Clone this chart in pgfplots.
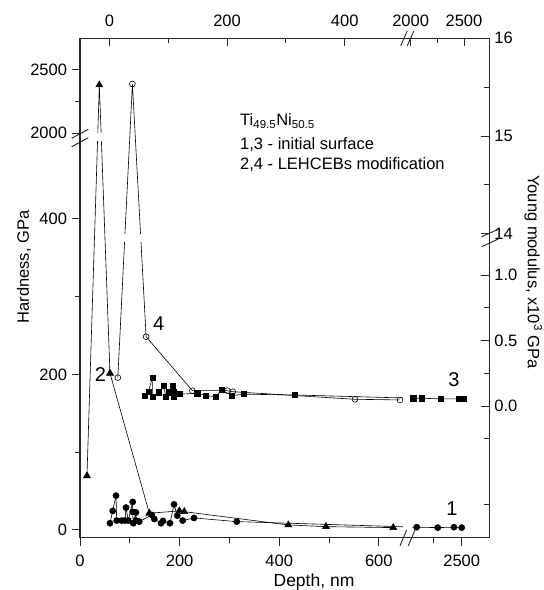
\documentclass[border=0pt]{standalone}
\usepackage{fontspec}
\setmainfont{Liberation Sans}
\usepackage{pgfplots}
\usepackage{pgfplotstable}
\pgfplotsset{compat=1.18}
% Series 1: hardness, initial surface (bottom x, left y)
\pgfplotstableread{
x y
60.2 8.6
65.7 24.4
72.3 44.1
73.7 12.0
83.7 12.0
90.4 12.2
92.4 28.7
97.0 12.0
105.8 36.0
105.8 23.2
107.0 8.6
112.4 22.5
112.4 12.0
119.0 10.7
144.0 19.3
149.2 14.1
162.7 8.6
166.7 11.6
180.7 8.6
188.8 32.8
195.4 18.4
206.2 12.0
228.9 15.4
314.7 10.7
2104 3.5
2289 3.0
2432 3.5
2500 3.0
}\seriesone
% Series 2: hardness, LEHCEBs modification
\pgfplotstableread{
x y
14 69.5
38.8 2381.5
60.2 201.5
139.2 21.5
199.4 24.4
209.4 23.5
418.3 6.4
494 4.2
629 3.0
}\seriestwo
% Series 3: Young modulus (x10^3 GPa), initial surface (top x, right y)
\pgfplotstableread{
x y
60.7 0.079
66.3 0.109
73.1 0.217
73.1 0.071
83.3 0.105
91.8 0.153
96.3 0.071
100.3 0.105
107.7 0.153
108.8 0.109
109.9 0.071
118.9 0.090
149.5 0.097
164.3 0.079
180.8 0.071
191.0 0.122
208.0 0.079
228.9 0.090
315.5 0.084
2025 0.059
2104 0.059
2285 0.054
2448 0.054
2497 0.054
}\seriesthree
% Series 4: Young modulus, LEHCEBs modification
\pgfplotstableread{
x y
14.3 0.217
39.1 15.532
62.4 0.530
141 0.117
200.5 0.117
209.7 0.109
417.5 0.051
494 0.046
}\seriesfour
\begin{document}
\begin{tikzpicture}
\useasboundingbox (-80pt,-52.3pt) rectangle (464pt,537.7pt);
\pgfplotsset{
  common/.style={
    scale only axis, width=409.3pt, height=499.4pt,
    at={(0pt,0pt)}, anchor=south west,
    axis line style={line width=1.1pt, black!85},
    every tick/.style={line width=0.9pt, black!85},
    major tick length=8pt, minor tick length=5pt,
    tick label style={font=\fontsize{16.5}{19}\selectfont},
    clip=false,
  },
}
\begin{axis}[common,
  x coord trafo/.code={\pgfmathparse{#1<1000 ? #1 : 652.4+(#1-2000)*0.2281}},
  y coord trafo/.code={\pgfmathparse{#1<1000 ? #1 : 510.2+(#1-2000)*0.1628}},
  xmin=0, xmax=2743, ymin=-10, ymax=2750,
  xtick pos=lower, ytick pos=lower,
  xticklabel pos=lower, yticklabel pos=lower,
  tick align=outside,
  xticklabel style={yshift=-6pt},
  yticklabel style={xshift=-1.5pt},
  xtick={0,200,400,600,2500}, xticklabels={0,200,400,600,2500},
  minor xtick={100,300,500,2250},
  ytick={0,200,400,2000,2500}, yticklabels={0,200,400,2000,2500},
  minor ytick={100,300,2250},
]
\addplot[black, line width=0.6pt, mark=*, mark size=3.05pt, mark options={solid, fill=black}] table[x=x, y=y] {\seriesone};
\addplot[black, line width=0.6pt, mark=triangle*, mark size=4pt, mark options={solid, fill=black}] table[x=x, y=y] {\seriestwo};
\fill[white] (axis cs:10,499.6) rectangle (axis cs:64,510);
\fill[white] (axis cs:649,1) rectangle (axis cs:666,7);
\end{axis}
\begin{axis}[common,
  x coord trafo/.code={\pgfmathparse{#1<1000 ? #1 : 512.0+(#1-2000)*0.1815}},
  y coord trafo/.code={\pgfmathparse{#1<5 ? #1 : 1.318+(#1-14)*0.7475}},
  xmin=-50, xmax=2737, ymin=-1.008, ymax=16,
  xtick pos=upper, ytick pos=upper,
  xticklabel pos=upper, yticklabel pos=upper,
  tick align=inside,
  xticklabel style={yshift=8pt},
  yticklabel style={xshift=1.5pt},
  xtick={0,200,400,2000,2500}, xticklabels={0,200,400,2000,2500},
  minor xtick={100,300,2250},
  ytick={0,0.5,1,14,15,16}, yticklabels={0.0,0.5,1.0,14,15,16},
  minor ytick={-0.75,-0.25,0.25,0.75,14.5,15.5},
]
\addplot[black, line width=0.6pt, mark=square*, mark size=2.6pt, mark options={solid, fill=black}] table[x=x, y=y] {\seriesthree};
\addplot[black, line width=0.6pt, mark=o, mark size=2.9pt, mark options={solid, fill=white, line width=0.6pt}] table[x=x, y=y] {\seriesfour};
\fill[white] (axis cs:5,1.258) rectangle (axis cs:77,1.317);
\fill[white] (axis cs:499,0.03) rectangle (axis cs:512,0.09);
\end{axis}
% axis break marks
\begin{scope}[line width=0.9pt, black!85]
\draw (-8.3pt,399.4pt) -- (8.3pt,408.4pt);
\draw (-8.3pt,391pt) -- (8.3pt,400pt);
\draw (401.7pt,301pt) -- (418.3pt,308.4pt);
\draw (401.7pt,291pt) -- (418.3pt,298.7pt);
\draw (320pt,-8pt) -- (326.7pt,7.7pt);
\draw (328.3pt,-8pt) -- (335pt,7.7pt);
\draw (320.7pt,492pt) -- (327.3pt,507pt);
\draw (327.3pt,492pt) -- (334pt,507pt);
\end{scope}
\begin{scope}[font=\fontsize{16.5}{19}\selectfont]
\node[rotate=90] at (-56pt,270.7pt) {Hardness, GPa};
\node[rotate=-90] at (453.3pt,265.7pt) {Young modulus, x10\textsuperscript{3} GPa};
\node[font=\fontsize{17.5}{20}\selectfont] at (234pt,-44.3pt) {Depth, nm};
\node[anchor=base west, inner sep=0pt] at (160pt,411.7pt) {Ti\textsubscript{49.5}Ni\textsubscript{50.5}};
\node[anchor=base west, inner sep=0pt] at (160pt,387.7pt) {1,3 - initial surface};
\node[anchor=base west, inner sep=0pt] at (160pt,367.7pt) {2,4 - LEHCEBs modification};
\end{scope}
\begin{scope}[font=\fontsize{20}{24}\selectfont]
\node at (78.7pt,213.7pt) {4};
\node at (20.5pt,162.7pt) {2};
\node at (374pt,157.7pt) {3};
\node at (372pt,28.7pt) {1};
\end{scope}
\end{tikzpicture}
\end{document}
